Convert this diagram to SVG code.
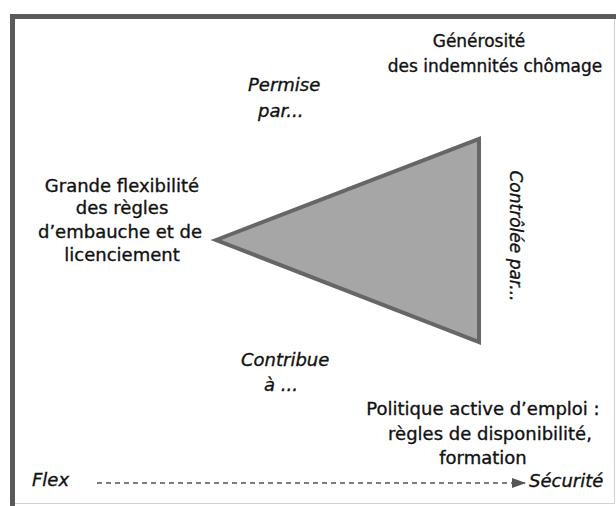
<svg xmlns="http://www.w3.org/2000/svg" width="616" height="506" viewBox="0 0 616 506">
<defs>
<style>
.t{font-family:"DejaVu Sans","Liberation Sans",sans-serif;font-size:18px;fill:#111;stroke:#111;stroke-width:0.35;text-anchor:middle}
.i{font-family:"DejaVu Sans","Liberation Sans",sans-serif;font-size:18px;fill:#111;stroke:#111;stroke-width:0.35;font-style:italic}
</style>
<marker id="ah" viewBox="0 0 14 10" refX="14" refY="5" markerWidth="14" markerHeight="10" markerUnits="userSpaceOnUse" orient="auto">
<path d="M0,0 L14,5 L0,10 Z" fill="#555"/>
</marker>
</defs>
<rect width="616" height="506" fill="#fff"/>
<g id="frame">
<path d="M614.5,19 V503.5 H15" fill="none" stroke="#d2d2d2" stroke-width="1"/>
<path d="M12.5,506 V16.5 H616" fill="none" stroke="#5a5a5a" stroke-width="5"/>
</g>
<g id="triangle">
<polygon points="216,240 479,139 479,342" fill="#a6a6a6" stroke="#666" stroke-width="4"/>
</g>
<g id="generosite">
<text class="t" style="font-size:17px" x="479" y="47">Générosité</text>
<text class="t" style="font-size:17px" x="495" y="72">des indemnités chômage</text>
</g>
<g id="flexibilite">
<text class="t" x="122" y="192">Grande flexibilité</text>
<text class="t" x="122" y="214">des règles</text>
<text class="t" x="120" y="238">d’embauche et de</text>
<text class="t" x="122" y="261">licenciement</text>
</g>
<g id="politique">
<text class="t" x="483" y="415">Politique active d’emploi :</text>
<text class="t" x="490" y="440">règles de disponibilité,</text>
<text class="t" x="483" y="464">formation</text>
</g>
<g id="permise">
<text class="i" x="248" y="91">Permise</text>
<text class="i" x="258" y="117">par...</text>
</g>
<g id="contribue">
<text class="i" x="241" y="366">Contribue</text>
<text class="i" x="264" y="391">à ...</text>
</g>
<g id="controlee">
<text class="i" style="font-size:17px;text-anchor:middle" transform="translate(510,236) rotate(90)">Contrôlée par...</text>
</g>
<g id="flex">
<text class="i" x="32" y="486">Flex</text>
</g>
<g id="securite">
<text class="i" x="529" y="487">Sécurité</text>
</g>
<g id="connectors">
<line x1="97" y1="483" x2="526" y2="483" stroke="#555" stroke-width="1.6" stroke-dasharray="5 4" marker-end="url(#ah)"/>
</g>
</svg>
